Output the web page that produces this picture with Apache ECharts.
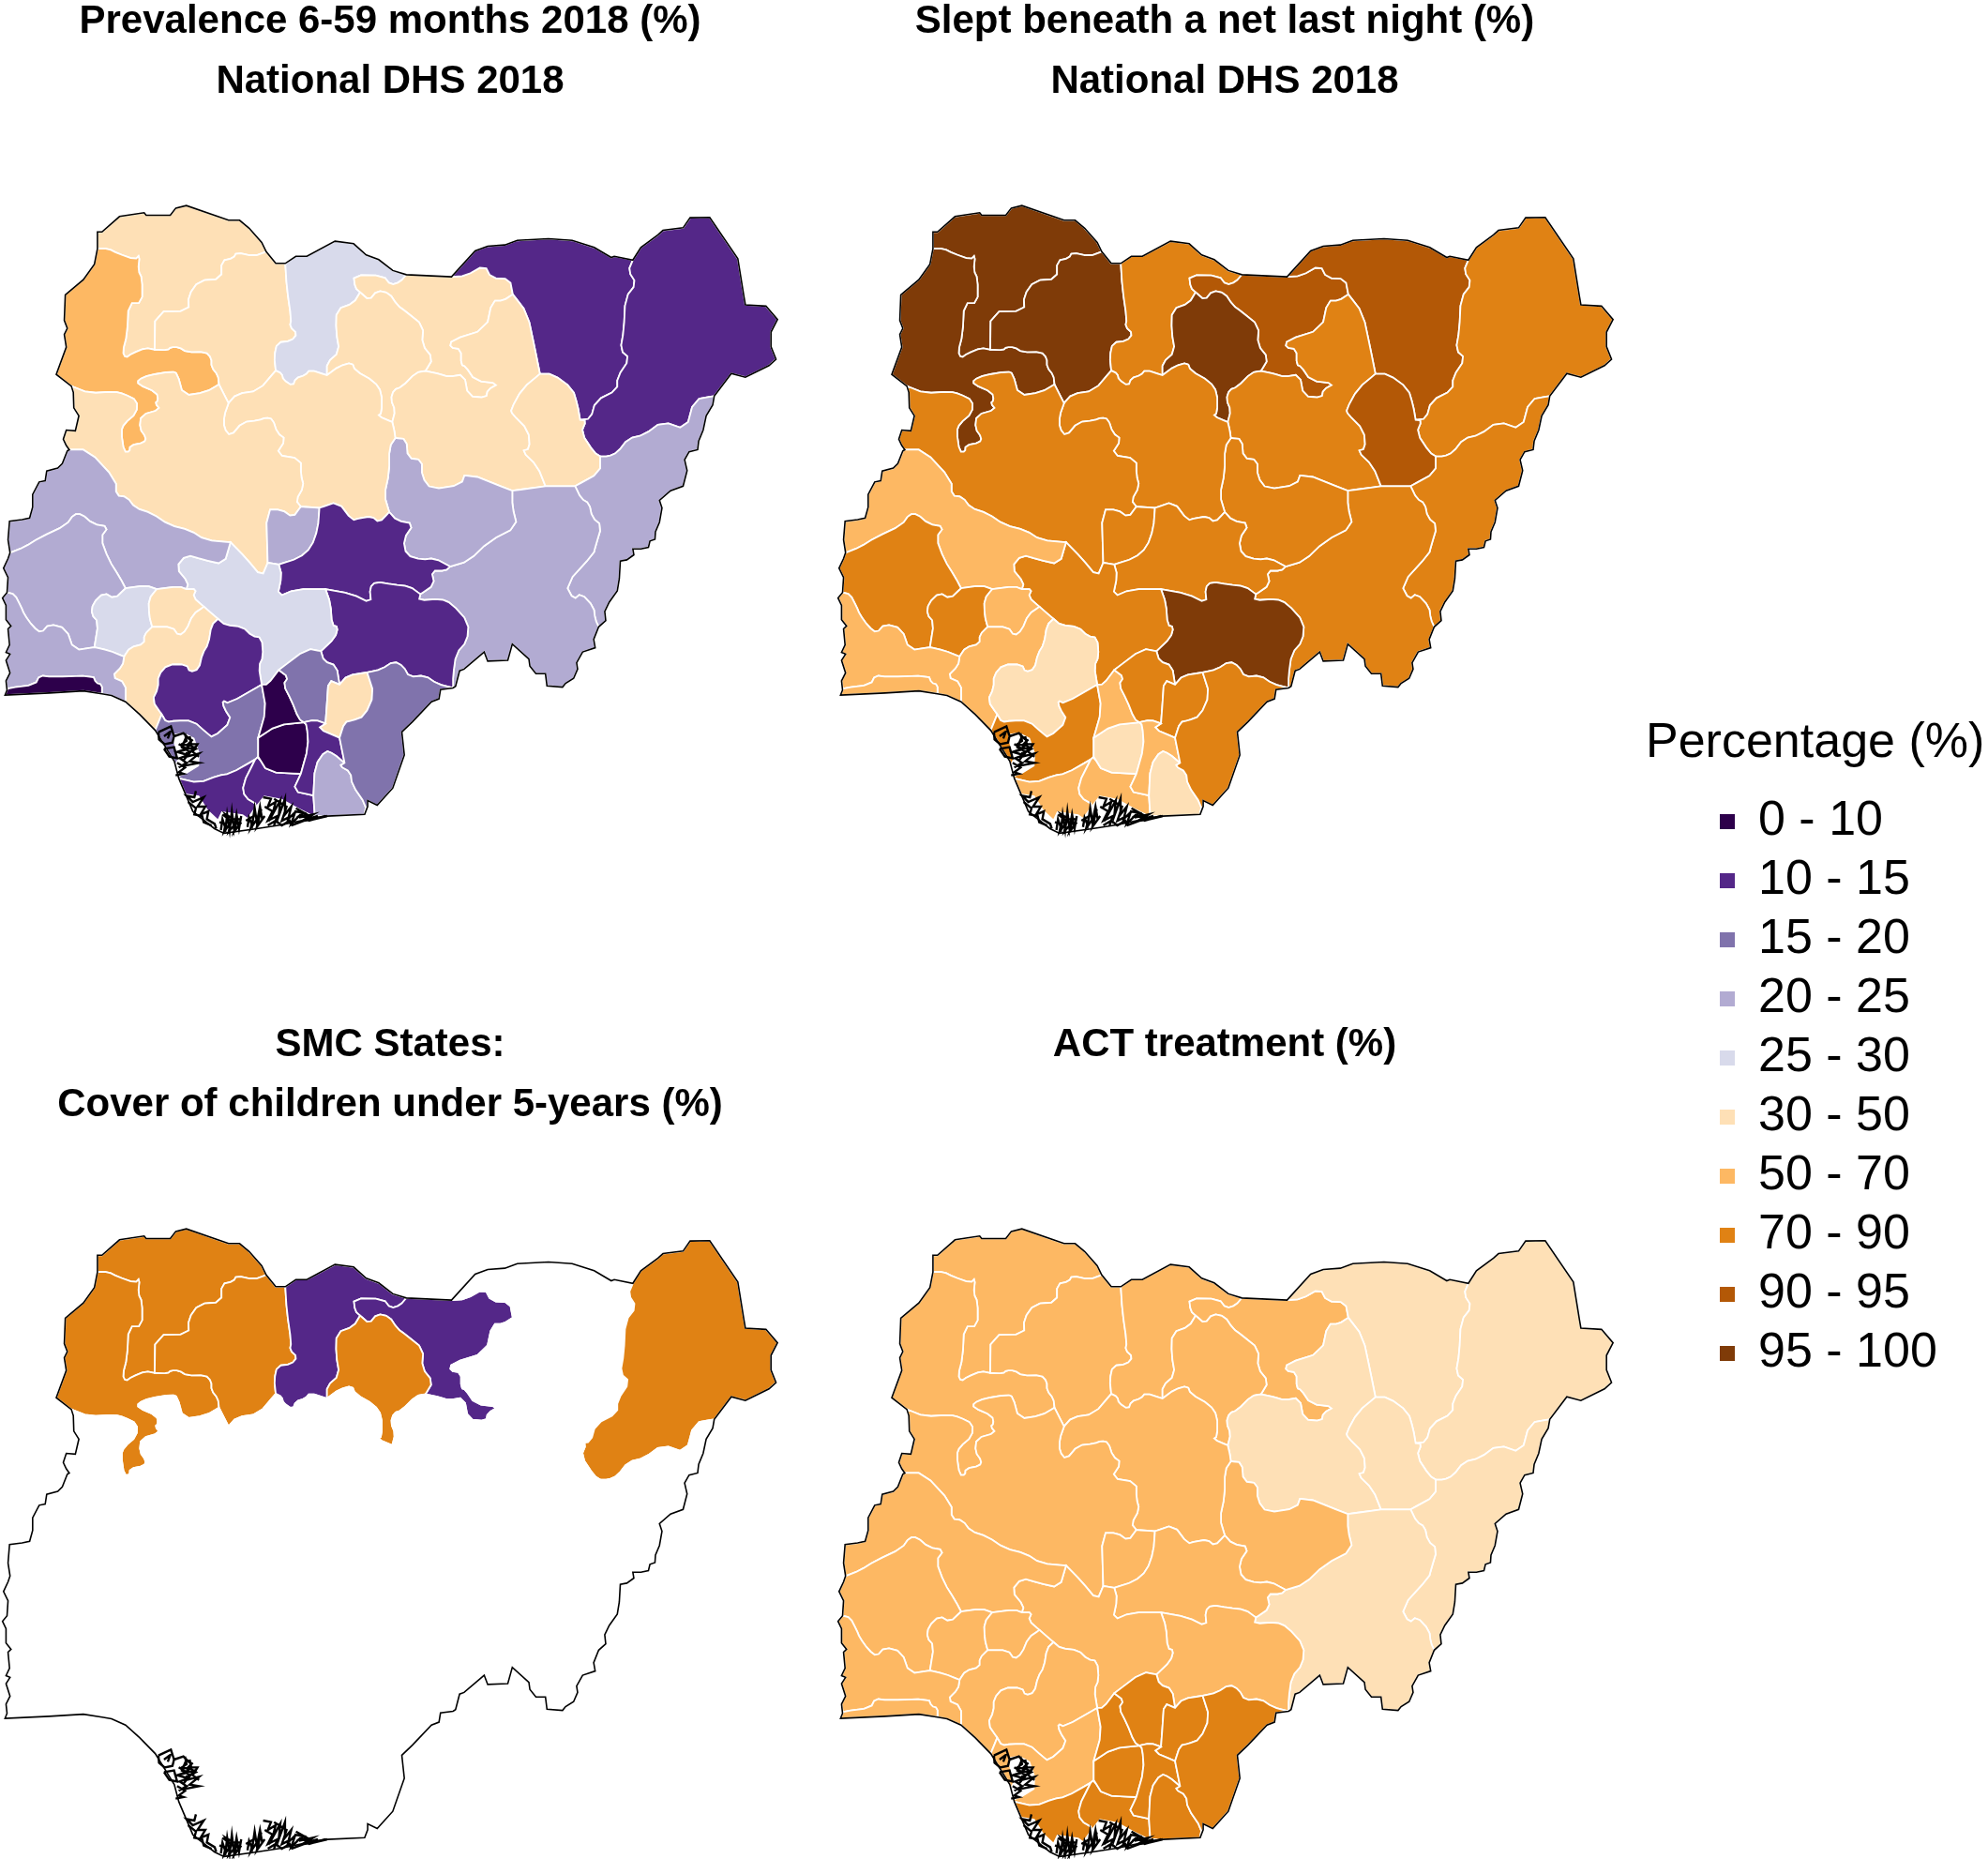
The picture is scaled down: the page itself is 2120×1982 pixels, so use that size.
<!DOCTYPE html>
<html>
<head>
    <meta charset="utf-8">
    <title>Nigeria malaria indicators</title>
    <script type="text/javascript" src="https://cdn.jsdelivr.net/npm/echarts@6/dist/echarts.min.js"></script>
    <style>html,body{margin:0;background:#fff}</style>
</head>
<body>
    <div id="main" style="width:2120px;height:1982px;"></div>
    <script type="text/javascript">
        // values per state (each one sits inside its colour band)
        var states = ['Sokoto','Kebbi','Zamfara','Katsina','Kano','Jigawa','Yobe','Borno','Bauchi','Gombe','Adamawa','Taraba','Plateau','Kaduna','Niger','FCT','Nasarawa','Benue','Kogi','Kwara','Oyo','Osun','Ekiti','Ondo','Ogun','Lagos','Edo','Delta','Bayelsa','Rivers','Imo','Anambra','Enugu','Ebonyi','Abia','Akwa Ibom','Cross River'];
        var prevalence = [40,60,40,28,40,40,13,13,40,40,22,22,22,40,40,22,13,13,28,22,22,28,40,40,22,5,13,18,13,13,5,5,18,40,13,22,18];
        var netUse = [97,97,97,80,97,92,92,80,80,92,80,80,80,80,80,80,80,97,80,60,80,80,60,60,60,60,40,80,60,60,40,60,80,80,60,40,80];
        var smcCover = [80,80,80,13,80,13,null,80,null,null,null,null,null,null,null,null,null,null,null,null,null,null,null,null,null,null,null,null,null,null,null,null,null,null,null,null,null];
        var actTreatment = [60,60,60,60,60,60,40,40,40,40,40,40,60,60,60,60,60,60,60,60,60,60,60,60,60,60,60,60,80,80,80,80,80,80,80,80,80];

        var bandLow = [0,10,15,20,25,30,50,70,90,95];
        var bandHigh = [10,15,20,25,30,50,70,90,95,100];
        var bandColors = ['#2d004b','#542788','#8073ac','#b2abd2','#d8daeb','#fee0b6','#fdb863','#e08214','#b35806','#7f3b08'];

        var panelTitles = [
            ['Prevalence 6-59 months 2018 (%)', 'National DHS 2018'],
            ['Slept beneath a net last night (%)', 'National DHS 2018'],
            ['SMC States:', 'Cover of children under 5-years (%)'],
            ['ACT treatment (%)']
        ];
        var panelValues = [prevalence, netUse, smcCover, actTreatment];

        // base map: coast and land border, kept jagged
        var outerArcs = {
            nSok:[[194,146],[194,106],[203,106],[238,69],[287,60],[291,66],[339,66],[350,49],[371,43],[455,78],[477,78],[496,97],[521,131],[530,153]],
            nZam:[[530,153],[549,181],[568,181]],
            nKat:[[568,181],[589,164],[611,164],[667,128],[704,134],[729,161],[754,172],[782,198],[809,208]],
            nJig:[[809,208],[899,213]],
            nYob:[[899,213],[946,151],[971,140],[1005,137],[1030,126],[1092,122],[1139,126],[1183,143],[1217,167],[1223,164],[1260,173]],
            eBor:[[1260,173],[1276,143],[1310,113],[1320,102],[1360,96],[1374,72],[1413,71],[1469,170],[1481,259],[1484,280],[1525,283],[1548,315],[1535,345],[1535,380],[1545,410],[1531,425],[1484,453],[1456,444],[1422,498]],
            eAda:[[1422,498],[1419,519],[1406,545],[1400,579],[1391,605],[1389,626],[1372,631],[1363,650],[1368,676],[1360,713],[1335,724],[1313,747],[1318,765],[1313,799],[1305,822],[1304,840],[1294,844],[1291,859],[1276,863],[1260,863],[1262,877],[1248,889],[1235,892],[1233,934],[1229,963],[1213,990],[1204,1012],[1206,1034],[1192,1049]],
            sTar:[[1192,1049],[1182,1079],[1185,1099],[1160,1109],[1148,1135],[1150,1150],[1142,1172],[1126,1184],[1120,1193],[1089,1190],[1086,1161],[1067,1161],[1055,1143],[1053,1126],[1020,1090],[1011,1129],[971,1131],[964,1109],[924,1150],[915,1154],[907,1191],[902,1195]],
            sCro:[[902,1195],[877,1199],[874,1221],[859,1228],[821,1276],[800,1300],[805,1355],[782,1434],[751,1475],[732,1464],[732,1478],[726,1497]],
            sAkw:[[726,1497],[651,1501],[627,1505]],
            sRiv:[[627,1505],[560,1522],[505,1532]],
            sBay:[[505,1532],[446,1542],[427,1531],[384,1490],[356,1411]],
            sDel:[[356,1411],[347,1370],[309,1296]],
            sOnd:[[309,1296],[278,1258],[250,1228]],
            sOgu:[[250,1228],[222,1213],[203,1209]],
            sLag:[[203,1209],[166,1202],[98,1207],[10,1212]],
            wLag:[[10,1212],[14,1200]],
            wOgu:[[14,1200],[12,1178],[20,1159],[12,1129],[20,1114],[12,1110],[19,1092],[16,1054],[22,1047],[12,1032],[12,998],[5,980],[14,967]],
            wOyo:[[14,967],[16,931],[7,909],[16,886],[20,872]],
            wKwa:[[20,872],[16,841],[19,797],[44,793],[59,789],[65,763],[65,733],[78,703],[90,700],[93,677],[115,670],[124,659],[134,629],[138,626]],
            wNig:[[138,626],[132,616],[126,601],[132,579],[150,581],[157,545],[147,526],[146,489],[142,474]],
            wKeb:[[142,474],[112,446],[132,381],[128,351],[134,336],[128,317],[130,256],[166,220],[188,183],[194,146]]
        };
        // state borders, rounded off a little below
        var innerArcs = {
            kebSok:[[194,146],[216,146],[234,157],[269,172],[278,161],[275,198],[283,217],[283,276],[256,276],[253,351],[244,392],[250,407],[263,396],[290,383],[308,387]],
            sokZam:[[530,153],[505,164],[471,155],[465,168],[441,175],[441,218],[396,222],[375,258],[376,295],[309,296],[308,387]],
            kebZam:[[308,387],[334,388],[340,381],[356,381],[372,393],[409,392],[421,407],[421,429],[434,448],[436,470]],
            kebNig:[[436,470],[409,489],[365,497],[353,444],[343,439],[297,448],[275,459],[275,470],[312,489],[315,508],[309,515],[319,530],[281,543],[278,575],[291,597],[287,609],[259,616],[258,631],[247,631],[241,582],[247,564],[272,538],[273,508],[247,493],[228,487],[178,491],[142,474]],
            zamNig:[[436,470],[455,515]],
            zamKad:[[455,515],[471,493],[515,485],[549,437]],
            zamKat:[[568,181],[571,239],[580,314],[577,332],[592,349],[580,366],[552,370],[546,403],[549,437]],
            katKad:[[549,437],[561,444],[564,459],[583,474],[589,455],[608,448],[617,435],[651,448]],
            katKan:[[651,448],[651,418],[676,392],[669,343],[670,291],[704,276],[717,250]],
            katJig:[[809,208],[797,225],[778,233],[763,210],[704,209],[707,239],[717,250]],
            kanJig:[[717,250],[735,269],[751,246],[775,252],[791,281],[809,297],[843,330],[840,375],[862,408],[847,438]],
            kanBau:[[847,438],[828,442],[800,476],[784,483],[778,506],[787,532],[781,560]],
            kanKad:[[651,448],[676,426],[701,418],[707,437],[745,463],[760,489],[760,538],[752,545],[781,560]],
            kadBau:[[781,560],[785,580],[787,598]],
            jigBau:[[847,438],[878,446],[893,452],[924,446],[932,498],[968,502],[971,483],[993,468],[946,461],[927,427],[918,423],[918,386],[896,382],[899,364],[968,338],[980,270],[1002,270],[1021,255]],
            jigYob:[[899,213],[927,211],[965,185],[978,216],[1015,218],[1021,255]],
            yobBau:[[1021,255],[1050,300],[1065,385],[1075,445]],
            yobGom:[[1075,445],[1100,445],[1140,480],[1150,520],[1155,555]],
            yobBor:[[1260,173],[1251,199],[1267,229],[1245,263],[1242,341],[1235,388],[1254,408],[1229,453],[1229,483],[1186,509],[1176,552],[1155,555]],
            borGom:[[1155,555],[1167,556],[1157,586],[1183,633],[1195,642]],
            borAda:[[1195,642],[1211,642],[1229,633],[1251,599],[1282,591],[1319,558],[1366,578],[1382,506],[1422,498]],
            gomAda:[[1195,642],[1195,680],[1145,713]],
            gomTar:[[1145,713],[1086,713]],
            gomBau:[[1075,445],[1040,480],[1017,530],[1020,541],[1052,579],[1055,624],[1039,629],[1070,665],[1086,713]],
            bauTar:[[1086,713],[1020,724]],
            bauPla:[[1020,724],[927,680],[918,710],[859,721],[840,691],[840,650],[812,646],[809,601],[787,598]],
            adaTar:[[1145,713],[1157,743],[1173,754],[1179,788],[1198,807],[1185,859],[1182,874],[1126,948],[1142,984],[1157,969],[1182,1001],[1185,1031],[1192,1049]],
            plaTar:[[1020,724],[1020,762],[1030,810],[974,844],[933,892],[896,905]],
            nasTar:[[896,905],[887,915],[859,915],[865,948],[837,971]],
            benTar:[[837,971],[834,986],[877,982],[899,993],[933,1038],[930,1083],[908,1113],[902,1165],[902,1195]],
            plaNas:[[775,775],[790,795],[824,803],[803,840],[809,878],[840,889],[865,885],[896,905]],
            plaKad:[[787,598],[775,620],[775,680],[765,735],[775,775]],
            kadNas:[[636,765],[673,750],[701,795],[715,790],[740,785],[755,800],[775,775]],
            kadFct:[[599,762],[636,765]],
            kadNig:[[455,515],[446,545],[446,575],[459,594],[483,560],[515,556],[530,549],[543,553],[552,586],[569,601],[549,638],[599,648],[599,687],[605,713],[589,747],[599,762]],
            nigFct:[[599,762],[583,788],[561,769],[530,769],[533,896]],
            fctNas:[[636,765],[633,814],[620,859],[595,885],[555,900]],
            fctKog:[[533,896],[555,900]],
            nigKog:[[533,896],[521,930],[490,885],[459,847]],
            nigKwa:[[459,847],[409,842],[378,818],[337,806],[303,778],[269,765],[253,739],[231,735],[231,698],[175,626],[138,626]],
            kwaKog:[[459,847],[446,900],[403,888],[371,877],[350,907],[375,944],[371,959]],
            kwaOyo:[[20,872],[48,859],[79,836],[132,806],[147,780],[163,780],[185,803],[216,810],[200,836],[216,888],[238,930],[250,957]],
            kwaOsu:[[250,957],[291,950],[312,959]],
            kwaEki:[[312,959],[356,952],[371,959]],
            oyoOsu:[[250,957],[228,982],[207,967],[185,993],[182,1019],[196,1038],[188,1098]],
            oyoOgu:[[14,967],[29,971],[42,1001],[48,1019],[66,1049],[82,1064],[98,1042],[132,1053],[147,1105],[188,1098]],
            osuOgu:[[188,1098],[216,1105],[247,1120]],
            osuOnd:[[247,1120],[259,1098],[287,1090],[287,1068],[303,1049]],
            osuEki:[[303,1049],[297,1023],[296,983],[312,959]],
            ekiOnd:[[303,1049],[343,1049],[356,1071],[371,1057],[384,1019],[406,1001]],
            ekiKog:[[371,959],[391,959],[384,978],[406,1001]],
            ondKog:[[406,1001],[434,1030]],
            ondEdo:[[434,1030],[421,1045],[415,1090],[403,1113],[396,1150],[378,1157],[371,1139],[334,1139],[315,1165],[315,1195],[303,1225],[322,1258]],
            ondDel:[[322,1258],[309,1296]],
            ondOgu:[[247,1120],[244,1142],[222,1168],[250,1183],[250,1228]],
            oguLag:[[14,1200],[17,1195],[70,1187],[79,1165],[104,1169],[185,1165],[191,1183],[203,1187],[203,1209]],
            edoKog:[[434,1030],[449,1045],[483,1049],[502,1071],[521,1075],[524,1120],[515,1143],[521,1187]],
            edoDel:[[521,1187],[456,1232],[443,1225],[446,1243],[462,1273],[424,1314],[412,1303],[384,1273],[350,1273],[331,1277],[322,1258]],
            delAna:[[521,1187],[530,1247],[514,1314]],
            delImo:[[514,1314],[514,1359]],
            delRiv:[[514,1359],[508,1366]],
            delBay:[[508,1366],[458,1400],[434,1404],[396,1422],[356,1411]],
            bayRiv:[[508,1366],[483,1426],[487,1456],[515,1475],[505,1532]],
            imoRiv:[[514,1359],[533,1396],[599,1400]],
            imoAna:[[514,1314],[552,1284],[605,1277]],
            anaKog:[[521,1187],[533,1187],[555,1152]],
            anaEnu:[[555,1152],[574,1169],[564,1187],[580,1224],[595,1269],[605,1277]],
            enuKog:[[555,1152],[611,1101],[639,1107]],
            kogBen:[[648,959],[658,993],[661,1045],[673,1049],[667,1075],[639,1107]],
            kogNas:[[555,900],[561,926],[552,978],[589,959],[648,959]],
            nasBen:[[648,959],[700,970],[739,993],[736,956],[748,941],[782,948],[815,952],[837,971]],
            benEnu:[[639,1107],[645,1131],[670,1142],[676,1187]],
            benEbo:[[676,1187],[692,1165],[731,1158]],
            benCro:[[731,1158],[760,1150],[784,1131],[803,1143],[815,1169],[846,1165],[870,1185],[902,1195]],
            enuEbo:[[676,1187],[654,1176],[651,1232],[648,1280]],
            enuAbi:[[648,1280],[627,1271],[605,1277]],
            imoAbi:[[605,1277],[611,1284],[614,1336],[599,1400]],
            abiEbo:[[648,1280],[633,1292],[676,1314]],
            eboCro:[[731,1158],[745,1210],[726,1262],[701,1273],[686,1277],[676,1314]],
            abiCro:[[676,1314],[686,1374]],
            abiAkw:[[686,1374],[664,1352],[648,1344],[627,1381],[624,1452]],
            akwCro:[[686,1374],[676,1381],[698,1396],[701,1426],[729,1475],[726,1497]],
            abiRiv:[[599,1400],[583,1441],[624,1452]],
            akwRiv:[[624,1452],[627,1505]]
        };

        var stateRings = {
            'Sokoto':'nSok sokZam -kebSok',
            'Kebbi':'kebSok kebZam kebNig wKeb',
            'Zamfara':'nZam zamKat -zamKad -zamNig -kebZam -sokZam',
            'Katsina':'nKat katJig -katKan -katKad -zamKat',
            'Jigawa':'nJig jigYob -jigBau -kanJig -katJig',
            'Kano':'kanJig kanBau -kanKad katKan',
            'Yobe':'nYob yobBor -yobGom -yobBau -jigYob',
            'Borno':'eBor -borAda -borGom -yobBor',
            'Bauchi':'jigBau yobBau gomBau bauTar bauPla -kadBau -kanBau',
            'Gombe':'yobGom borGom gomAda gomTar -gomBau',
            'Adamawa':'borAda eAda -adaTar -gomAda',
            'Taraba':'adaTar sTar -benTar -nasTar -plaTar -bauTar -gomTar',
            'Plateau':'-bauPla plaTar -plaNas -plaKad',
            'Kaduna':'zamKad katKad kanKad kadBau plaKad -kadNas -kadFct -kadNig',
            'Niger':'-kebNig zamNig kadNig nigFct nigKog nigKwa wNig',
            'FCT':'kadFct fctNas -fctKog -nigFct',
            'Nasarawa':'kadNas plaNas nasTar -nasBen -kogNas -fctNas',
            'Benue':'nasBen benTar -benCro -benEbo -benEnu -kogBen',
            'Kogi':'-nigKog fctKog kogNas kogBen -enuKog -anaKog -edoKog -ondKog -ekiKog -kwaKog',
            'Kwara':'-nigKwa kwaKog -kwaEki -kwaOsu -kwaOyo wKwa',
            'Oyo':'kwaOyo oyoOsu -oyoOgu wOyo',
            'Osun':'kwaOsu -osuEki -osuOnd -osuOgu -oyoOsu',
            'Ekiti':'kwaEki ekiKog -ekiOnd osuEki',
            'Ondo':'ekiOnd ondKog ondEdo ondDel sOnd -ondOgu osuOnd',
            'Ogun':'oyoOgu osuOgu ondOgu sOgu -oguLag wOgu',
            'Lagos':'oguLag sLag wLag',
            'Edo':'-ondEdo edoKog edoDel',
            'Delta':'-edoDel delAna delImo delRiv delBay sDel -ondDel',
            'Bayelsa':'-delBay bayRiv sBay',
            'Rivers':'-delRiv imoRiv abiRiv akwRiv sRiv -bayRiv',
            'Imo':'imoAna imoAbi -imoRiv -delImo',
            'Anambra':'anaKog anaEnu -imoAna -delAna',
            'Enugu':'enuKog benEnu enuEbo enuAbi -anaEnu',
            'Ebonyi':'benEbo eboCro -abiEbo -enuEbo',
            'Abia':'-enuAbi abiEbo abiCro abiAkw -abiRiv -imoAbi',
            'Akwa Ibom':'-abiAkw akwCro sAkw -akwRiv',
            'Cross River':'benCro sCro -akwCro -abiCro -eboCro'
        };
        var borderRing = 'nSok nZam nKat nJig nYob eBor eAda sTar sCro sAkw sRiv sBay sDel sOnd sOgu sLag wLag wOgu wOyo wKwa wNig wKeb';

        // Niger delta water and creeks, traced on a 3x crop of the delta
        var deltaPatches = [
            [[555,728],[590,722],[625,740],[642,790],[640,830],[600,855],[575,865],[560,830],[572,806],[562,770]],
            [[596,918],[640,925],[668,970],[700,1000],[712,975],[780,985],[795,995],[820,960],[848,925],[905,935],[960,965],[1000,985],[1050,990],[900,1020],[720,1045],[690,1030],[620,975]]
        ];
        var creeks = [
            [[510,722],[550,703],[560,735],[555,755],[530,760],[512,745],[510,722]],
            [[528,735],[548,720],[540,742]],
            [[528,775],[560,770],[570,805],[545,800],[528,775]],
            [[560,735],[590,725],[610,745]],
            [[595,725],[600,750],[585,760],[610,765],[590,780],[625,770],[600,800],[640,790],[610,815],[640,820],[590,830]],
            [[610,735],[615,760],[635,760],[620,785],[640,800]],
            [[575,760],[600,775],[570,785],[605,795],[578,805],[600,820],[575,835]],
            [[570,820],[595,835],[575,850],[590,855],[565,860]],
            [[620,745],[605,760],[630,775],[598,790]],
            [[600,735],[585,770],[612,785],[590,812]],
            [[630,910],[625,930],[600,925],[620,945],[655,930],[635,960],[660,960],[645,985],[670,975],[665,1000],[690,1015],[695,1030]],
            [[605,945],[630,965],[625,985],[650,990],[655,1010],[680,1020]],
            [[710,1035],[715,1000],[725,1030],[730,985],[738,1035],[745,975],[752,1032],[760,985],[768,1030],[775,990]],
            [[705,1010],[725,1015],[720,1040],[742,1010],[735,1040],[760,1010],[752,1040],[775,1010]],
            [[715,985],[735,1000],[725,985],[750,1000],[770,1000]],
            [[795,1025],[800,995],[810,1020],[818,965],[825,1010],[835,960],[842,1000]],
            [[790,1005],[815,990],[805,1030],[835,985],[825,1025],[850,990]],
            [[845,930],[870,935],[860,960],[885,945],[875,985],[900,940],[895,990],[915,935],[915,985],[935,960],[925,1000],[950,975]],
            [[880,935],[920,960],[905,1005],[945,985],[935,1015],[965,985]],
            [[850,960],[875,975],[860,1005],[890,990],[880,1020]],
            [[860,1020],[885,1005],[905,1020],[930,1005],[935,1020]],
            [[950,965],[985,985],[960,995],[1005,985],[975,1003],[1020,990],[990,1005],[1045,990]],
            [[935,1020],[975,1005],[1010,1000],[1050,990]],
            [[945,975],[975,980],[960,990],[990,995]]
        ];

        // one corner-cutting pass, keeps the arc ends so neighbours still meet
        function rounded(arc) {
            var out = [arc[0]];
            for (var i = 0; i < arc.length - 1; i++) {
                var a = arc[i], b = arc[i + 1];
                out.push([a[0] * 0.75 + b[0] * 0.25, a[1] * 0.75 + b[1] * 0.25]);
                out.push([a[0] * 0.25 + b[0] * 0.75, a[1] * 0.25 + b[1] * 0.75]);
            }
            out.push(arc[arc.length - 1]);
            return out;
        }
        var arcs = Object.assign({}, outerArcs);
        Object.keys(innerArcs).forEach(function (k) { arcs[k] = rounded(innerArcs[k]); });

        function ring(spec) {
            var pts = [];
            spec.split(' ').forEach(function (key) {
                var arc = key.charAt(0) === '-' ? arcs[key.slice(1)].slice().reverse() : arcs[key];
                pts = pts.concat(arc);
            });
            return pts;
        }
        // traced coordinates -> map coordinates in picture pixels
        function toGeo(p) { return [p[0] / 1.867, -p[1] / 2.24]; }
        function fromCrop(p) { return toGeo([p[0] * 0.6223 - 2, 761.6 + p[1] * 0.7467]); }

        var stateFeatures = Object.keys(stateRings).map(function (name) {
            return { type: 'Feature', properties: { name: name },
                geometry: { type: 'Polygon', coordinates: [ring(stateRings[name]).map(toGeo)] } };
        });
        var borderPts = ring(borderRing);
        var overlayFeatures = deltaPatches.map(function (p, i) {
            return { type: 'Feature', properties: { name: 'water' + i },
                geometry: { type: 'Polygon', coordinates: [p.map(fromCrop)] } };
        });
        overlayFeatures.push({ type: 'Feature', properties: { name: 'border' },
            geometry: { type: 'LineString', coordinates: borderPts.concat([borderPts[0]]).map(toGeo) } });
        overlayFeatures.push({ type: 'Feature', properties: { name: 'creeks' },
            geometry: { type: 'MultiLineString', coordinates: creeks.map(function (c) { return c.map(fromCrop); }) } });

        // same-named map series get merged by echarts, so each panel registers its own copy
        panelValues.forEach(function (v, i) {
            echarts.registerMap('ngStates' + i, { type: 'FeatureCollection', features: stateFeatures });
            echarts.registerMap('ngOverlay' + i, { type: 'FeatureCollection', features: overlayFeatures });
        });

        var geoPts = borderPts.map(toGeo);
        var minX = Math.min.apply(null, geoPts.map(function (p) { return p[0]; }));
        var maxX = Math.max.apply(null, geoPts.map(function (p) { return p[0]; }));
        var minY = Math.min.apply(null, geoPts.map(function (p) { return p[1]; }));
        var maxY = Math.max.apply(null, geoPts.map(function (p) { return p[1]; }));

        var panelOrigin = [[0, 200], [891, 200], [0, 1291], [891, 1291]];
        var titleCenter = [411, 1301, 411, 1301];
        var titleTop = [-3, -3, 1088, 1088];

        var fontName = '"Liberation Sans", Arial, sans-serif';

        function placed(i) {
            return {
                left: panelOrigin[i][0] + minX,
                top: panelOrigin[i][1] - maxY,
                width: maxX - minX,
                height: maxY - minY,
                aspectScale: 1,
                boundingCoords: [[minX, maxY], [maxX, minY]],
                roam: false,
                silent: true,
                label: { show: false },
                emphasis: { disabled: true },
                select: { disabled: true }
            };
        }

        var series = panelValues.map(function (vals, i) {
            var data = [];
            states.forEach(function (s, k) {
                if (vals[k] !== null) data.push({ name: s, value: vals[k] });
            });
            return Object.assign(placed(i), {
                type: 'map', map: 'ngStates' + i, data: data,
                itemStyle: { areaColor: '#fff', borderColor: '#fff', borderWidth: 1.8 }
            });
        }).concat(panelValues.map(function (vals, i) {
            return Object.assign(placed(i), {
                type: 'map', map: 'ngOverlay' + i, z: 5,
                data: [
                    { name: 'water0', itemStyle: { areaColor: '#fff', borderWidth: 0 } },
                    { name: 'water1', itemStyle: { areaColor: '#fff', borderWidth: 0 } },
                    { name: 'creeks', itemStyle: { borderWidth: 2.4 } }
                ],
                itemStyle: { areaColor: 'transparent', borderColor: '#000', borderWidth: 1.6 }
            });
        }));

        var titles = [];
        panelTitles.forEach(function (lines, i) {
            lines.forEach(function (t, k) {
                titles.push({
                    text: t, left: titleCenter[i], top: titleTop[i] + k * 64, textAlign: 'center',
                    textStyle: { fontFamily: fontName, fontWeight: 'bold', fontSize: 42, color: '#000' }
                });
            });
        });
        titles.push({
            text: 'Percentage (%)', left: 1750, top: 762,
            textStyle: { fontFamily: fontName, fontWeight: 'normal', fontSize: 52, color: '#000' }
        });

        var myChart = echarts.init(document.getElementById('main'));
        myChart.setOption({
            backgroundColor: '#fff',
            animation: false,
            title: titles,
            visualMap: {
                type: 'piecewise',
                seriesIndex: [0, 1, 2, 3],
                left: 1819, top: 835,
                orient: 'vertical',
                align: 'left',
                inverse: true,
                itemWidth: 16, itemHeight: 16, itemGap: 11, textGap: 25,
                itemSymbol: 'rect',
                selectedMode: false, hoverLink: false,
                textStyle: { fontFamily: fontName, fontSize: 52, color: '#000' },
                pieces: bandColors.map(function (c, i) {
                    return { min: bandLow[i], max: bandHigh[i], label: bandLow[i] + ' - ' + bandHigh[i], color: c };
                })
            },
            series: series
        });
    </script>
</body>
</html>
